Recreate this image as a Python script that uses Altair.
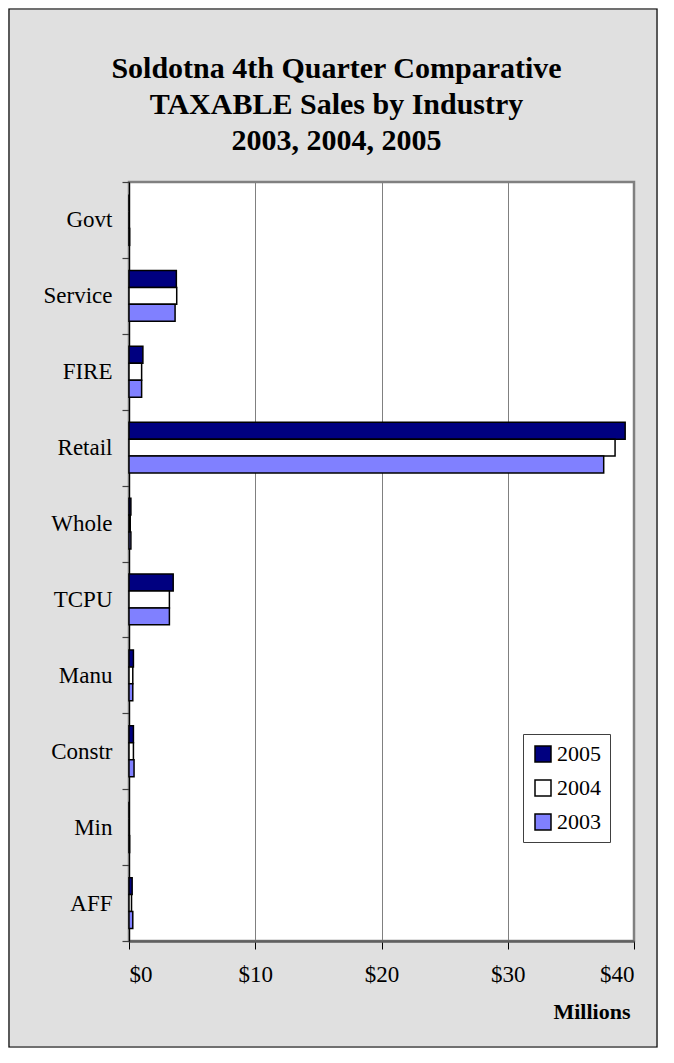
import altair as alt
import pandas as pd

categories = ["Govt", "Service", "FIRE", "Retail", "Whole", "TCPU", "Manu", "Constr", "Min", "AFF"]
years = ["2005", "2004", "2003"]
sales_2005 = [0.0, 3.75, 1.1, 39.3, 0.15, 3.5, 0.35, 0.35, 0.0, 0.25]
sales_2004 = [0.0, 3.78, 1.0, 38.5, 0.1, 3.2, 0.3, 0.35, 0.0, 0.2]
sales_2003 = [0.05, 3.65, 1.0, 37.6, 0.15, 3.2, 0.3, 0.4, 0.05, 0.3]
colors = ["#000080", "#FFFFFF", "#8080FF"]
x_ticks = [0, 10, 20, 30, 40]
title_lines = ["Soldotna 4th Quarter Comparative", "TAXABLE Sales by Industry", "2003, 2004, 2005"]

rows = []
for yr, vals in zip(years, [sales_2005, sales_2004, sales_2003]):
    for c, v in zip(categories, vals):
        rows.append({"Industry": c, "Year": yr, "Sales": v})
df = pd.DataFrame(rows)

W, H = 505, 759
PL, PT, PR, PB = 121, 174, 24, 107
FONT = "Liberation Serif"

bars = alt.Chart(df).mark_bar(stroke="black", strokeWidth=1.5).encode(
    y=alt.Y(
        "Industry:N", sort=categories,
        scale=alt.Scale(paddingInner=0, paddingOuter=0),
        axis=alt.Axis(
            title=None, tickBand="extent", grid=False,
            domainColor="black", domainWidth=1.2,
            tickColor="#404040", tickSize=7, tickWidth=1.2,
            labelFont=FONT, labelFontSize=23, labelColor="black", labelPadding=10,
        ),
    ),
    yOffset=alt.YOffset(
        "Year:N", sort=years,
        scale=alt.Scale(paddingInner=0, paddingOuter=0.74),
    ),
    x=alt.X(
        "Sales:Q",
        scale=alt.Scale(domain=[0, 40], nice=False),
        axis=alt.Axis(
            values=x_ticks, labelExpr="'$' + datum.value",
            grid=True, gridColor="#808080", gridWidth=1,
            domainColor="#606060", domainWidth=2.5,
            tickColor="black", tickSize=8, tickWidth=1,
            labelFont=FONT, labelFontSize=23, labelColor="black", labelPadding=14,
            title="Millions", titleFont=FONT, titleFontSize=22, titleFontWeight="bold",
            titleColor="black", titleX=W - 4, titleY=77, titleAlign="right",
            titleBaseline="alphabetic", titleAngle=0,
        ),
    ),
    color=alt.Color(
        "Year:N", sort=years,
        scale=alt.Scale(domain=years, range=colors),
        legend=alt.Legend(
            title=None, orient="none", legendX=394, legendY=552,
            direction="vertical",
            fillColor="white", strokeColor="#404040", padding=9,
            symbolType="square", symbolSize=256,
            symbolStrokeColor="black", symbolStrokeWidth=1.5, symbolOpacity=1,
            labelFont=FONT, labelFontSize=22, labelColor="black", labelOffset=3,
            rowPadding=12,
        ),
    ),
)

frame = alt.Chart(pd.DataFrame({"k": [0]})).mark_rect(
    fill="transparent", stroke="black", strokeWidth=1.2
).encode(
    x=alt.value(-PL + 1),
    x2=alt.value(W + PR - 1),
    y=alt.value(-PT + 1),
    y2=alt.value(H + PB - 1),
)

chart = alt.layer(bars, frame).properties(
    width=W, height=H,
    title=alt.TitleParams(
        text=title_lines, font=FONT, fontSize=30, fontWeight="bold", color="black",
        anchor="middle", frame="group", dx=-45, lineHeight=36,
        baseline="bottom", offset=26, dy=PT + 30,
    ),
    autosize=alt.AutoSizeParams(type="none"),
    padding={"left": PL, "top": PT, "right": PR, "bottom": PB},
).configure(
    background="#E0E0E0",
).configure_view(
    fill="white", stroke="#808080", strokeWidth=2.5,
)

chart.save("out.html", embed_options={"renderer": "svg", "actions": False})
